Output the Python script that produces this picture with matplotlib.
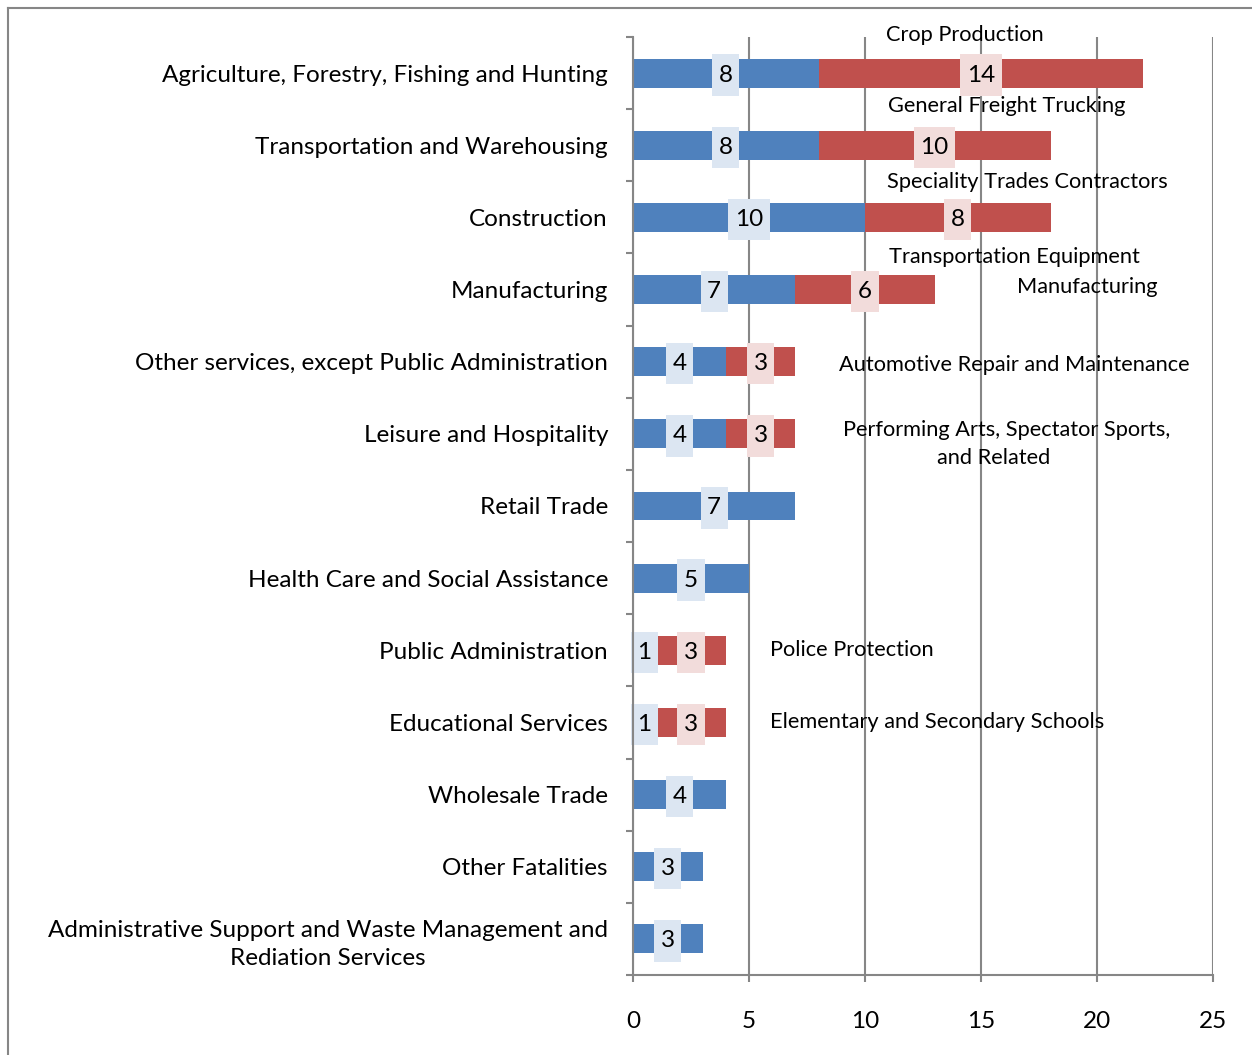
import matplotlib
matplotlib.use("Agg")
import matplotlib.pyplot as plt
from matplotlib.lines import Line2D
from matplotlib.path import Path

# Categories, top to bottom
industries = [
    "Agriculture, Forestry, Fishing and Hunting",
    "Transportation and Warehousing",
    "Construction",
    "Manufacturing",
    "Other services, except Public Administration",
    "Leisure and Hospitality",
    "Retail Trade",
    "Health Care and Social Assistance",
    "Public Administration",
    "Educational Services",
    "Wholesale Trade",
    "Other Fatalities",
    "Administrative Support and Waste Management and\nRediation Services",
]
other_fatalities = [8, 8, 10, 7, 4, 4, 7, 5, 1, 1, 4, 3, 3]
top_subsector = [14, 10, 8, 6, 3, 3, 0, 0, 3, 3, 0, 0, 0]

# Sub-sector notes: (text, x, y, ha)
notes = [
    ("Crop Production", 14.3, -0.53, "center"),
    ("General Freight Trucking", 16.1, 0.46, "center"),
    ("Speciality Trades Contractors", 17.0, 1.51, "center"),
    ("Transportation Equipment", 16.45, 2.55, "center"),
    ("Manufacturing", 19.6, 2.97, "center"),
    ("Automotive Repair and Maintenance", 8.9, 4.05, "left"),
    ("Performing Arts, Spectator Sports,", 16.1, 4.95, "center"),
    ("and Related", 15.55, 5.34, "center"),
    ("Police Protection", 5.9, 8.0, "left"),
    ("Elementary and Secondary Schools", 5.9, 9.0, "left"),
]

BLUE = "#4f81bd"
RED = "#c0504d"
GRID = "#868686"
FONT = "Lato"
LABEL_SIZE = 17.5
NOTE_SIZE = 15.7


def label_box(x0, y0, width, height, mutation_size):
    """Rectangle box, wider padding vertically than horizontally (Excel style)."""
    padx = 0.27 * mutation_size
    pady = 0.42 * mutation_size
    x0, y0 = x0 - padx, y0 - pady
    x1, y1 = x0 + width + 2 * padx, y0 + height + 2 * pady
    return Path([(x0, y0), (x1, y0), (x1, y1), (x0, y1), (x0, y0)], closed=True)


plt.rcParams["font.family"] = [FONT, "DejaVu Sans"]

fig = plt.figure(figsize=(12.52, 10.55), dpi=100, facecolor="white")
ax = fig.add_axes([633 / 1252, 1 - 975 / 1055, 580 / 1252, 938 / 1055])

ypos = list(range(len(industries)))
blue = ax.barh(ypos, other_fatalities, height=0.4, color=BLUE, zorder=2)
red = ax.barh(ypos, top_subsector, left=other_fatalities, height=0.4, color=RED, zorder=2)

anns = ax.bar_label(blue, labels=[str(v) for v in other_fatalities], label_type="center",
                    fontsize=LABEL_SIZE, color="black",
                    bbox=dict(boxstyle=label_box, fc="#dce6f2", ec="none"))
anns += ax.bar_label(red, labels=[str(v) if v else "" for v in top_subsector],
                     label_type="center", fontsize=LABEL_SIZE, color="black",
                     bbox=dict(boxstyle=label_box, fc="#f2dcdb", ec="none"))
for a in anns:
    a.set_va("center_baseline")

for text, x, y, ha in notes:
    ax.text(x, y, text, ha=ha, va="center", fontsize=NOTE_SIZE, color="black",
            clip_on=False, zorder=3)

ax.set_xlim(0, 25)
ax.set_ylim(len(industries) - 0.5, -0.5)
ax.set_xticks(range(0, 26, 5))
ax.set_yticks(ypos)
ax.set_yticklabels(industries, fontsize=LABEL_SIZE, ha="right", multialignment="center")
for lbl in ax.get_yticklabels():
    lbl.set_linespacing(1.4)
ax.set_yticks([i - 0.5 for i in range(len(industries) + 1)], minor=True)

ax.tick_params(axis="y", which="major", length=0, pad=18)
ax.tick_params(axis="y", which="minor", length=5, color=GRID, width=1.5)
ax.tick_params(axis="x", length=5, color=GRID, width=1.5, labelsize=LABEL_SIZE, pad=21)

ax.grid(axis="x", color=GRID, linewidth=1.5, zorder=1)
ax.set_axisbelow(True)
for side in ("top", "right"):
    ax.spines[side].set_visible(False)
for side in ("left", "bottom"):
    ax.spines[side].set_color(GRID)
    ax.spines[side].set_linewidth(1.5)
    ax.spines[side].set_zorder(3)

# outer chart frame
fig.add_artist(Line2D([8 / 1252, 8 / 1252], [0, 1 - 8 / 1055], color=GRID, linewidth=1.5))
fig.add_artist(Line2D([8 / 1252, 1], [1 - 8 / 1055, 1 - 8 / 1055], color=GRID, linewidth=1.5))

fig.savefig("out.png", dpi=100, facecolor="white")
